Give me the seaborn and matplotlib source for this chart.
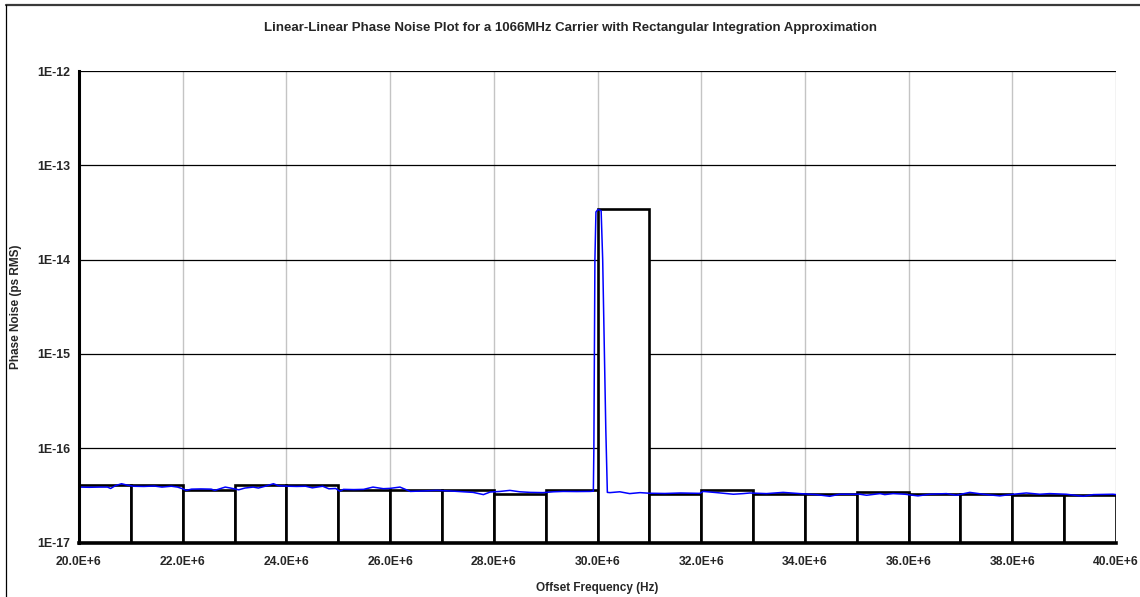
import numpy as np
import pandas as pd
import matplotlib
matplotlib.use("Agg")
import matplotlib.pyplot as plt
from matplotlib.lines import Line2D
from matplotlib.ticker import FixedLocator, FuncFormatter, NullLocator
import seaborn as sns

# ---------------- data ----------------
title = "Linear-Linear Phase Noise Plot for a 1066MHz Carrier with Rectangular Integration Approximation"
x_label = "Offset Frequency (Hz)"
y_label = "Phase Noise (ps RMS)"

# rectangular integration bins (1 MHz wide, left edges in Hz)
bin_left_hz = [20e6, 21e6, 22e6, 23e6, 24e6, 25e6, 26e6, 27e6, 28e6, 29e6,
               30e6, 31e6, 32e6, 33e6, 34e6, 35e6, 36e6, 37e6, 38e6, 39e6]
bin_value = [4.03e-17, 4.03e-17, 3.60e-17, 4.03e-17, 4.03e-17, 3.60e-17, 3.58e-17, 3.58e-17,
             3.30e-17, 3.62e-17, 3.40e-14, 3.30e-17, 3.62e-17, 3.30e-17, 3.30e-17, 3.42e-17,
             3.25e-17, 3.25e-17, 3.20e-17, 3.20e-17]

# measured phase noise trace (frequency in MHz)
trace_mhz = [20.00, 20.20, 20.40, 20.55, 20.61, 20.70, 20.82, 20.92, 21.05, 21.25,
             21.45, 21.60, 21.78, 21.90, 22.00, 22.07, 22.17, 22.35, 22.55, 22.62,
             22.82, 22.92, 23.08, 23.20, 23.36, 23.46, 23.59, 23.75, 23.85, 24.05,
             24.20, 24.37, 24.50, 24.70, 24.82, 24.95, 25.03, 25.10, 25.30, 25.49,
             25.67, 25.87, 26.00, 26.19, 26.39, 26.64, 26.90, 27.16, 27.41, 27.60,
             27.80, 27.93, 28.12, 28.31, 28.50, 28.70, 28.95, 29.15, 29.34, 29.60,
             29.85, 29.92, 29.93, 29.95, 29.97, 30.01, 30.07, 30.10, 30.16, 30.19,
             30.24, 30.43, 30.62, 30.82, 31.00, 31.30, 31.60, 31.97, 32.04, 32.30,
             32.62, 32.81, 32.94, 33.26, 33.58, 33.90, 34.22, 34.48, 34.67, 35.06,
             35.19, 35.45, 35.54, 35.70, 35.93, 36.18, 36.41, 36.73, 36.92, 37.18,
             37.44, 37.76, 37.95, 38.27, 38.53, 38.72, 39.04, 39.37, 39.56, 39.94,
             40.00]
trace_value = [3.87e-17, 3.85e-17, 3.87e-17, 3.87e-17, 3.74e-17, 4.00e-17, 4.20e-17, 4.07e-17, 3.95e-17, 3.93e-17,
               3.97e-17, 3.87e-17, 3.95e-17, 3.87e-17, 3.71e-17, 3.57e-17, 3.68e-17, 3.70e-17, 3.68e-17, 3.57e-17,
               3.87e-17, 3.78e-17, 3.62e-17, 3.78e-17, 3.87e-17, 3.78e-17, 3.95e-17, 4.20e-17, 4.00e-17, 3.95e-17,
               3.93e-17, 3.95e-17, 3.80e-17, 3.95e-17, 3.71e-17, 3.74e-17, 3.50e-17, 3.66e-17, 3.64e-17, 3.66e-17,
               3.87e-17, 3.72e-17, 3.75e-17, 3.87e-17, 3.48e-17, 3.52e-17, 3.57e-17, 3.52e-17, 3.45e-17, 3.40e-17,
               3.22e-17, 3.43e-17, 3.48e-17, 3.57e-17, 3.45e-17, 3.40e-17, 3.38e-17, 3.45e-17, 3.48e-17, 3.47e-17,
               3.48e-17, 3.50e-17, 1.0e-16, 1.0e-14, 3.2e-14, 3.4e-14, 3.3e-14, 1.0e-14, 1.6e-16, 3.40e-17,
               3.38e-17, 3.45e-17, 3.30e-17, 3.38e-17, 3.33e-17, 3.31e-17, 3.35e-17, 3.32e-17, 3.48e-17, 3.38e-17,
               3.25e-17, 3.30e-17, 3.35e-17, 3.30e-17, 3.40e-17, 3.30e-17, 3.22e-17, 3.09e-17, 3.25e-17, 3.25e-17,
               3.17e-17, 3.30e-17, 3.22e-17, 3.30e-17, 3.25e-17, 3.12e-17, 3.25e-17, 3.30e-17, 3.17e-17, 3.40e-17,
               3.25e-17, 3.12e-17, 3.22e-17, 3.35e-17, 3.25e-17, 3.30e-17, 3.25e-17, 3.09e-17, 3.22e-17, 3.25e-17,
               3.22e-17]

x_ticks = [20e6, 22e6, 24e6, 26e6, 28e6, 30e6, 32e6, 34e6, 36e6, 38e6, 40e6]
y_ticks = [1e-17, 1e-16, 1e-15, 1e-14, 1e-13, 1e-12]
y_tick_labels = ["1E-17", "1E-16", "1E-15", "1E-14", "1E-13", "1E-12"]

# ---------------- style ----------------
sns.set_style("white")
plt.rcParams["font.family"] = ["Liberation Sans", "DejaVu Sans"]
plt.rcParams["font.weight"] = "bold"

W, H = 1140, 597
fig = plt.figure(figsize=(W / 100, H / 100), dpi=100)
ax = fig.add_axes([79 / W, 1 - 542.5 / H, (1116 - 79) / W, (542.5 - 71) / H])

trace_df = pd.DataFrame({"freq": np.array(trace_mhz) * 1e6, "noise": trace_value})

ax.set_yscale("log")

# grid
for xt in x_ticks:
    ax.axvline(xt, color="#c4c4c4", lw=1.0, zorder=0)
for yt in y_ticks:
    ax.axhline(yt, color="black", lw=0.9, zorder=0)

# rectangles (from the axis floor up to each bin value)
ax.bar(bin_left_hz, bin_value, width=1e6, align="edge",
       facecolor="white", edgecolor="black", linewidth=1.9, zorder=2)

# trace
sns.lineplot(data=trace_df, x="freq", y="noise", ax=ax, color="#0000ff",
             lw=1.1, estimator=None, sort=False, zorder=3)

ax.set_xlim(20e6, 40e6)
ax.set_ylim(1e-17, 1e-12)

ax.xaxis.set_major_locator(FixedLocator(x_ticks))
ax.xaxis.set_major_formatter(FuncFormatter(lambda v, p: f"{v / 1e6:.1f}E+6"))
ax.yaxis.set_major_locator(FixedLocator(y_ticks))
ax.yaxis.set_major_formatter(FuncFormatter(lambda v, p: y_tick_labels[int(round(np.log10(v))) + 17]))
ax.yaxis.set_minor_locator(NullLocator())
ax.xaxis.set_minor_locator(NullLocator())

ax.tick_params(axis="x", which="major", direction="out", length=4, width=1.5,
               labelsize=8.7, color="black", pad=6)
ax.tick_params(axis="y", which="major", direction="out", length=4, width=1.5,
               labelsize=8.9, color="black", pad=2.5)
for lab in ax.get_xticklabels() + ax.get_yticklabels():
    lab.set_fontweight("bold")

for s in ["top", "right"]:
    ax.spines[s].set_visible(False)
ax.spines["left"].set_linewidth(2.2)
ax.spines["bottom"].set_linewidth(2.6)
ax.spines["left"].set_color("black")
ax.spines["bottom"].set_color("black")
ax.spines["left"].set_zorder(4)
ax.spines["bottom"].set_zorder(4)

ax.set_xlabel(x_label, fontsize=8.5, fontweight="bold", labelpad=10)
ax.set_ylabel(y_label, fontsize=8.5, fontweight="bold")
ax.yaxis.set_label_coords((22 - 79) / (1116 - 79), 0.5)
fig.text(0.5, 1 - 28 / H, title, ha="center", va="center", fontsize=9.5, fontweight="bold")

# outer chart frame (top and left visible)
fig.add_artist(Line2D([5.5 / W, 1.0], [1 - 5 / H, 1 - 5 / H], color="#3a3a3a", lw=1.6,
                      transform=fig.transFigure))
fig.add_artist(Line2D([6 / W, 6 / W], [0.0, 1 - 5 / H], color="black", lw=0.9,
                      transform=fig.transFigure))

fig.savefig("out.png", dpi=100)
